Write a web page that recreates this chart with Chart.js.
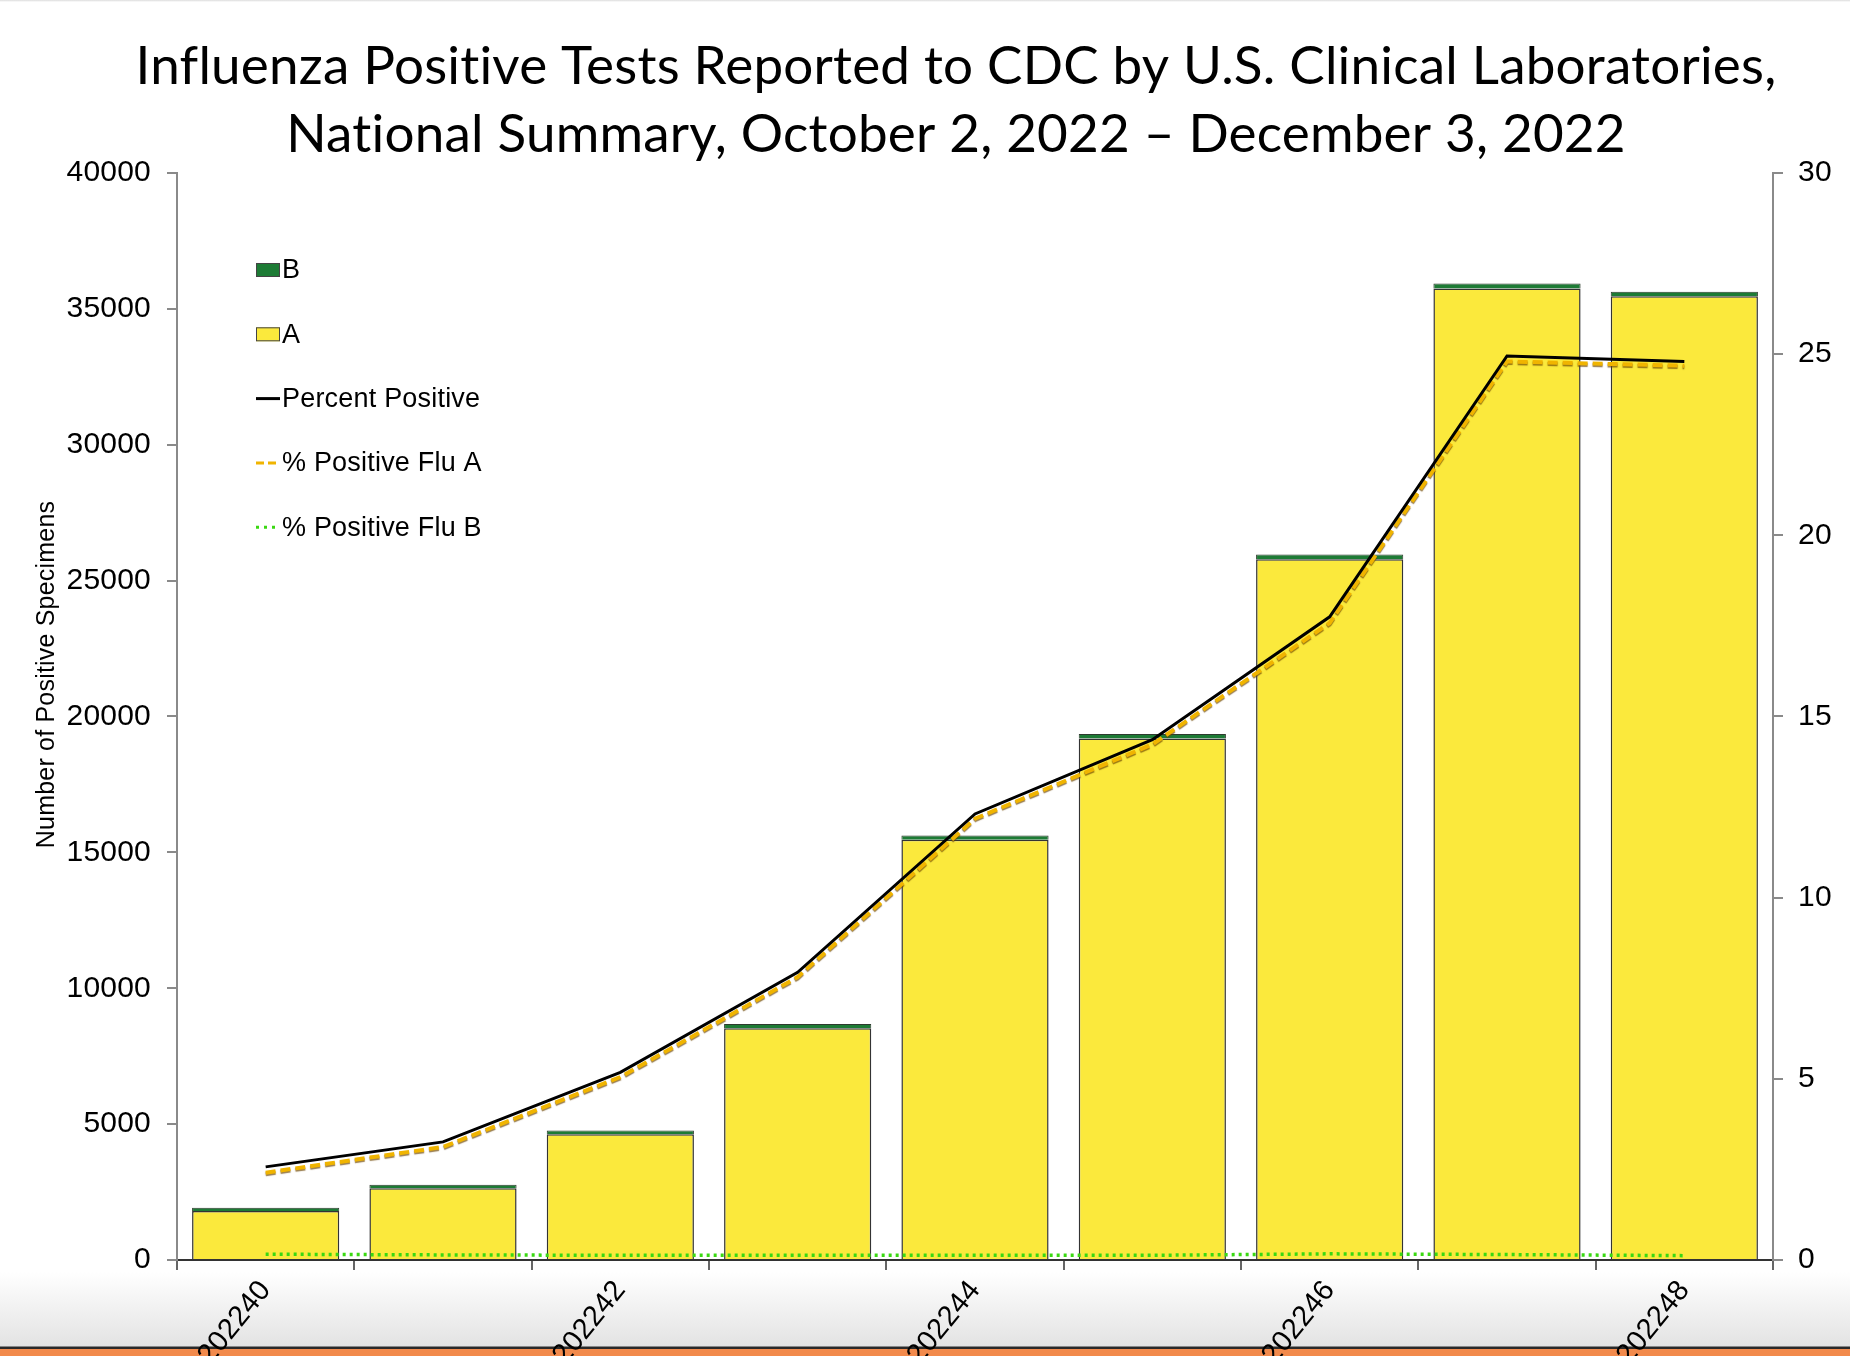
<!DOCTYPE html>
<html lang="en">
<head>
    <meta charset="UTF-8">
    <meta name="viewport" content="width=device-width, initial-scale=1.0">
    <title>Influenza Positive Tests</title>
    <script src="https://cdn.jsdelivr.net/npm/chart.js"></script>
    <style>
        html, body {
            margin: 0;
            padding: 0;
            width: 1850px;
            height: 1356px;
            overflow: hidden;
        }
        body {
            background: linear-gradient(to bottom,
                #dcdcdc 0px, #ffffff 2px,
                #ffffff 1272px, #e3e3e3 1346px,
                #2a2a2a 1347px, #2a2a2a 1349px,
                #f28a4c 1349px, #f28a4c 1356px);
        }
        #wrap {
            position: absolute;
            left: 0;
            top: 0;
            width: 1880px;
            height: 1420px;
        }
    </style>
</head>

<body>
    <div id="wrap">
        <canvas id="fluChart"></canvas>
    </div>

    <script>
// semaines MMWR
const weeks = ['202240', '202241', '202242', '202243', '202244', '202245', '202246', '202247', '202248'];

// nombre de specimens positifs
const fluA = [1805, 2641, 4630, 8530, 15460, 19190, 25785, 35750, 35460];
const fluB = [120, 130, 140, 150, 160, 170, 175, 180, 170];

// pourcentages positifs (axe de droite)
const pctPositive = [2.57, 3.26, 5.18, 7.94, 12.31, 14.36, 17.75, 24.95, 24.80];
const pctFluA = [2.41, 3.12, 5.05, 7.81, 12.18, 14.23, 17.58, 24.80, 24.68];
const pctFluB = [0.16, 0.14, 0.13, 0.13, 0.13, 0.13, 0.17, 0.15, 0.12];

const countTicks = [0, 40000, 5000];
const pctTicks = [0, 30, 5];

const tickFont = { family: '"Liberation Sans", Arial, sans-serif', size: 30 };

// pas de ligatures (ti) dans le titre
const plainText = {
    id: 'plainText',
    beforeDraw(chart) {
        chart.ctx.textRendering = 'optimizeSpeed';
        chart.ctx.letterSpacing = '0.2px';
    }
};

// ombre sous la ligne pointillee de la grippe A
const dashShadow = {
    id: 'dashShadow',
    beforeDatasetDraw(chart, args) {
        if (args.index === 3) {
            const ctx = chart.ctx;
            ctx.save();
            ctx.shadowColor = 'rgba(110, 70, 0, 0.7)';
            ctx.shadowOffsetY = 1.5;
            ctx.shadowBlur = 1;
        }
    },
    afterDatasetDraw(chart, args) {
        if (args.index === 3) {
            chart.ctx.restore();
        }
    }
};

// legende et titre de l'axe gauche
const legendOrder = [1, 0, 2, 3, 4];
const boxLegend = {
    id: 'boxLegend',
    afterDraw(chart) {
        const ctx = chart.ctx;
        const area = chart.chartArea;
        const x0 = area.left + 79;
        const y0 = area.top + 97;
        legendOrder.forEach((idx, i) => {
            const ds = chart.data.datasets[idx];
            const y = y0 + i * 64.3;
            ctx.save();
            if (ds.type === 'bar') {
                ctx.fillStyle = ds.backgroundColor;
                ctx.fillRect(x0, y - 7, 24, 14);
                ctx.strokeStyle = '#444';
                ctx.lineWidth = 1;
                ctx.strokeRect(x0 + 0.5, y - 6.5, 23, 13);
            } else {
                ctx.strokeStyle = ds.borderColor;
                ctx.lineWidth = 3;
                ctx.setLineDash(ds.legendDash || []);
                ctx.beginPath();
                ctx.moveTo(x0, y);
                ctx.lineTo(x0 + 24, y);
                ctx.stroke();
            }
            ctx.setLineDash([]);
            ctx.fillStyle = '#000';
            ctx.font = '27px "Liberation Sans", Arial, sans-serif';
            ctx.textBaseline = 'middle';
            ctx.fillText(ds.label, x0 + 26, y + 1);
            ctx.restore();
        });

        ctx.save();
        ctx.translate(47, (area.top + area.bottom) / 2 - 42);
        ctx.rotate(-Math.PI / 2);
        ctx.fillStyle = '#000';
        ctx.font = '25px "Liberation Sans", Arial, sans-serif';
        ctx.textAlign = 'center';
        ctx.textBaseline = 'middle';
        ctx.fillText('Number of Positive Specimens', 0, 0);
        ctx.restore();
    }
};

function createFluChart() {
    const ctx = document.getElementById('fluChart').getContext('2d');
    const fluChart = new Chart(ctx, {
        type: 'bar',
        data: {
            labels: weeks,
            datasets: [
                {
                    type: 'bar',
                    label: 'A',
                    data: fluA,
                    backgroundColor: '#fbe93c',
                    borderColor: '#333333',
                    borderWidth: 1.5,
                    yAxisID: 'y',
                    stack: 'flu',
                    order: 10,
                    barPercentage: 0.83,
                    categoryPercentage: 1.0
                },
                {
                    type: 'bar',
                    label: 'B',
                    data: fluB,
                    backgroundColor: '#1d7b35',
                    borderColor: '#2e3a2e',
                    borderWidth: 1,
                    yAxisID: 'y',
                    stack: 'flu',
                    order: 10,
                    barPercentage: 0.83,
                    categoryPercentage: 1.0
                },
                {
                    type: 'line',
                    label: 'Percent Positive',
                    data: pctPositive,
                    borderColor: '#000000',
                    borderWidth: 3,
                    pointRadius: 0,
                    tension: 0,
                    yAxisID: 'y1',
                    order: 1
                },
                {
                    type: 'line',
                    label: '% Positive Flu A',
                    data: pctFluA,
                    borderColor: '#f0b400',
                    borderWidth: 4,
                    borderDash: [10, 5],
                    legendDash: [8, 4],
                    pointRadius: 0,
                    tension: 0,
                    yAxisID: 'y1',
                    order: 2
                },
                {
                    type: 'line',
                    label: '% Positive Flu B',
                    data: pctFluB,
                    borderColor: '#3ad812',
                    borderWidth: 3.5,
                    borderDash: [3, 4],
                    legendDash: [3, 5],
                    pointRadius: 0,
                    tension: 0,
                    yAxisID: 'y1',
                    order: 3
                }
            ]
        },
        options: {
            responsive: true,
            maintainAspectRatio: false,
            animation: false,
            layout: { padding: { left: 32, right: 0, top: 0, bottom: 0 } },
            plugins: {
                legend: { display: false },
                tooltip: { enabled: false },
                title: {
                    display: true,
                    text: ['Influenza Positive Tests Reported to CDC by U.S. Clinical Laboratories,',
                           'National Summary, October 2, 2022 \u2013 December 3, 2022'],
                    color: '#000',
                    font: { family: 'Lato, "Open Sans", sans-serif', size: 53, weight: 'normal', lineHeight: 1.283 },
                    padding: { top: 33, bottom: 4 }
                }
            },
            scales: {
                x: {
                    stacked: true,
                    afterFit: (scale) => { scale.height = 160; },
                    border: { display: true, color: '#333', width: 2 },
                    grid: { drawOnChartArea: false, drawTicks: true, tickLength: 10, color: '#666', lineWidth: 2, offset: true },
                    ticks: {
                        autoSkip: false,
                        minRotation: 51,
                        maxRotation: 51,
                        padding: 4,
                        color: '#000',
                        font: { family: '"Liberation Sans", Arial, sans-serif', size: 29 },
                        callback: function (value, index) {
                            return index % 2 === 0 ? weeks[index] : '';
                        }
                    }
                },
                y: {
                    position: 'left',
                    stacked: true,
                    min: countTicks[0],
                    max: countTicks[1],
                    afterFit: (scale) => { scale.width = 145; },
                    border: { display: true, color: '#8a8a8a', width: 2 },
                    grid: { drawOnChartArea: false, drawTicks: true, tickLength: 10, color: '#8a8a8a', lineWidth: 2 },
                    ticks: {
                        stepSize: countTicks[2],
                        padding: 16,
                        color: '#000',
                        font: tickFont,
                        callback: (value) => String(value)
                    }
                },
                y1: {
                    position: 'right',
                    min: pctTicks[0],
                    max: pctTicks[1],
                    afterFit: (scale) => { scale.width = 107; },
                    border: { display: true, color: '#8a8a8a', width: 2 },
                    grid: { drawOnChartArea: false, drawTicks: true, tickLength: 10, color: '#8a8a8a', lineWidth: 2 },
                    ticks: {
                        stepSize: pctTicks[2],
                        padding: 15,
                        color: '#000',
                        font: tickFont,
                        callback: (value) => String(value)
                    },
                    title: {
                        display: true,
                        text: 'Percent Positive',
                        color: '#000',
                        font: { family: '"Liberation Sans", Arial, sans-serif', size: 24 },
                        padding: { top: 0, bottom: 0 }
                    }
                }
            }
        },
        plugins: [plainText, dashShadow, boxLegend]
    });
}

createFluChart();
    </script>
</body>

</html>
